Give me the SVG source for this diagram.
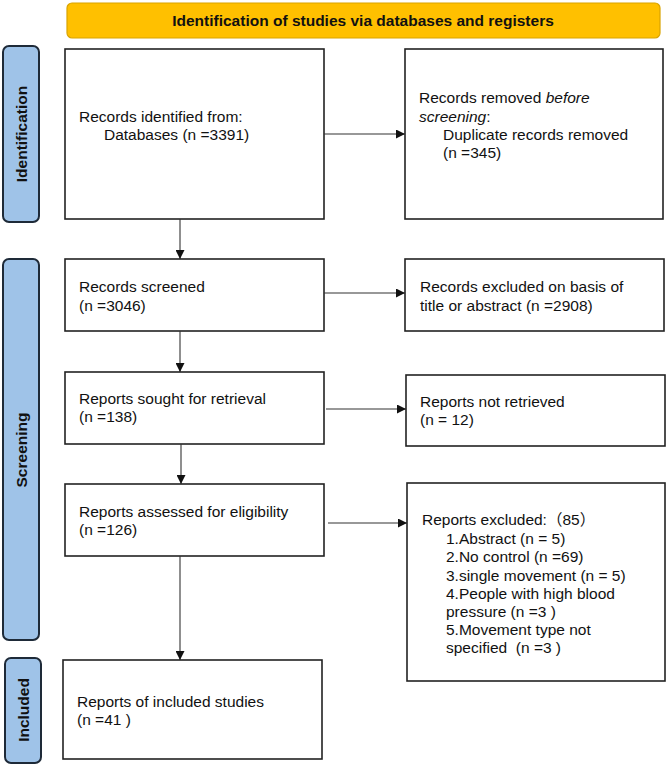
<svg xmlns="http://www.w3.org/2000/svg" width="669" height="765" viewBox="0 0 669 765">
<defs>
<marker id="arr" viewBox="0 0 10 10" refX="10" refY="5" markerWidth="10" markerHeight="9" markerUnits="userSpaceOnUse" orient="auto">
<path d="M0,0 L10,5 L0,10 z" fill="#111"/>
</marker>
<style>
.box{fill:#fff;stroke:#222;stroke-width:1.6}
.side{fill:#9FC3E8;stroke:#1E2A38;stroke-width:2}
.t{font-family:"Liberation Sans",Arial,"Noto Sans CJK SC",sans-serif;font-size:15.5px;fill:#111;white-space:pre}
.b{font-family:"Liberation Sans",Arial,sans-serif;font-size:15.5px;font-weight:bold;fill:#111}
.c{fill:none;stroke:#333;stroke-width:1.1}
</style>
</defs>
<rect width="669" height="765" fill="#fff"/>
<g id="header">
<rect x="67" y="3" width="593" height="35" rx="5" fill="#FFC000" stroke="#D9A300" stroke-width="1.2"/>
<text class="b" x="363" y="26" text-anchor="middle">Identification of studies via databases and registers</text>
</g>
<g id="phase-identification">
<rect class="side" x="3" y="46" width="36" height="176" rx="6"/>
<text class="b" transform="translate(27,134) rotate(-90)" text-anchor="middle">Identification</text>
</g>
<g id="phase-screening">
<rect class="side" x="3" y="259" width="36" height="381" rx="6"/>
<text class="b" transform="translate(27,450) rotate(-90)" text-anchor="middle">Screening</text>
</g>
<g id="phase-included">
<rect class="side" x="5" y="658" width="36" height="105" rx="6"/>
<text class="b" transform="translate(29,710) rotate(-90)" text-anchor="middle">Included</text>
</g>
<g id="records-identified">
<rect class="box" x="65" y="49" width="259" height="170"/>
<text class="t" x="79" y="122">Records identified from:</text>
<text class="t" x="104" y="140">Databases (n =3391)</text>
</g>
<g id="records-removed">
<rect class="box" x="405" y="49" width="258" height="170"/>
<text class="t" x="419" y="103">Records removed <tspan font-style="italic">before</tspan></text>
<text class="t" x="419" y="122"><tspan font-style="italic">screening</tspan>:</text>
<text class="t" x="443" y="140">Duplicate records removed</text>
<text class="t" x="443" y="158">(n =345)</text>
</g>
<g id="records-screened">
<rect class="box" x="65" y="259" width="259" height="72"/>
<text class="t" x="79" y="292">Records screened</text>
<text class="t" x="79" y="311">(n =3046)</text>
</g>
<g id="records-excluded">
<rect class="box" x="405" y="259" width="259" height="72"/>
<text class="t" x="420" y="292">Records excluded on basis of</text>
<text class="t" x="420" y="311">title or abstract (n =2908)</text>
</g>
<g id="reports-sought">
<rect class="box" x="65" y="372" width="259" height="72"/>
<text class="t" x="79" y="404">Reports sought for retrieval</text>
<text class="t" x="79" y="422">(n =138)</text>
</g>
<g id="reports-not-retrieved">
<rect class="box" x="406" y="375" width="259" height="71"/>
<text class="t" x="420" y="407">Reports not retrieved</text>
<text class="t" x="420" y="425">(n = 12)</text>
</g>
<g id="reports-assessed">
<rect class="box" x="65" y="484" width="259" height="72"/>
<text class="t" x="79" y="517">Reports assessed for eligibility</text>
<text class="t" x="79" y="535">(n =126)</text>
</g>
<g id="reports-excluded">
<rect class="box" x="407" y="483" width="258" height="198"/>
<text class="t" x="422" y="525">Reports excluded:（85）</text>
<text class="t" x="446" y="544">1.Abstract (n = 5)</text>
<text class="t" x="446" y="562">2.No control (n =69)</text>
<text class="t" x="446" y="581">3.single movement (n = 5)</text>
<text class="t" x="446" y="599">4.People with high blood</text>
<text class="t" x="446" y="617">pressure (n =3 )</text>
<text class="t" x="446" y="635">5.Movement type not</text>
<text class="t" x="446" y="653">specified  (n =3 )</text>
</g>
<g id="reports-included">
<rect class="box" x="63" y="660" width="259" height="99"/>
<text class="t" x="77" y="707">Reports of included studies</text>
<text class="t" x="77" y="725">(n =41 )</text>
</g>
<g id="connectors">
<line class="c" x1="324" y1="134" x2="405" y2="134" marker-end="url(#arr)"/>
<line class="c" x1="180" y1="219" x2="180" y2="259" marker-end="url(#arr)"/>
<line class="c" x1="324" y1="293" x2="405" y2="293" marker-end="url(#arr)"/>
<line class="c" x1="180" y1="331" x2="180" y2="372" marker-end="url(#arr)"/>
<line class="c" x1="326" y1="409" x2="406" y2="409" marker-end="url(#arr)"/>
<line class="c" x1="181" y1="444" x2="181" y2="484" marker-end="url(#arr)"/>
<line class="c" x1="328" y1="523" x2="407" y2="523" marker-end="url(#arr)"/>
<line class="c" x1="180" y1="556" x2="180" y2="660" marker-end="url(#arr)"/>
</g>
</svg>
